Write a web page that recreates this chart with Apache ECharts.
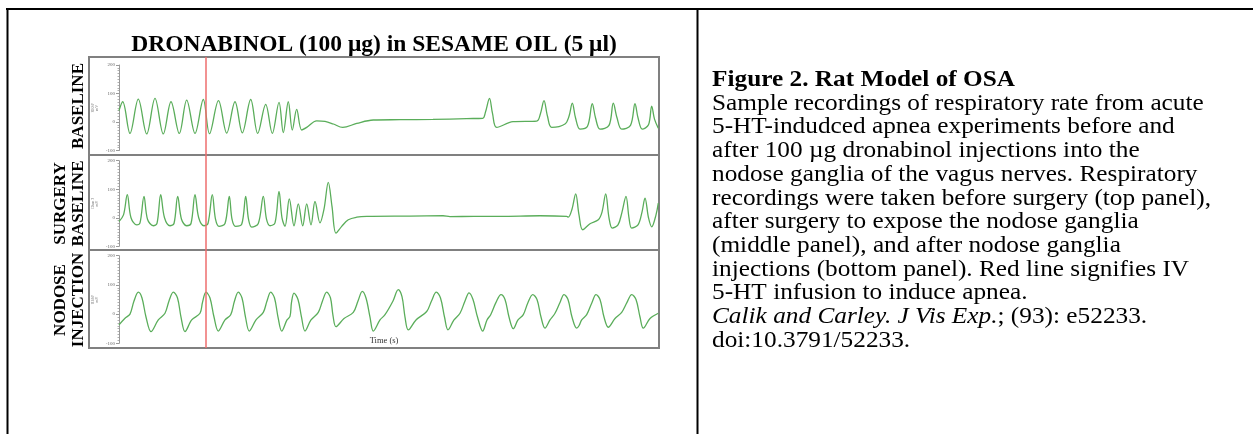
<!DOCTYPE html>
<html><head><meta charset="utf-8">
<script src="https://cdn.jsdelivr.net/npm/echarts@6/dist/echarts.min.js"></script>
<style>html,body{margin:0;padding:0;background:#fff}#c{width:1253px;height:434px}</style>
</head><body><div id="c"></div><script>
// ---- data (time in s, signal in mV) ----
const baselineTrace = [[0,40],[0.37,71],[1.10,-40],[1.93,80],[2.77,-42],[3.60,83],[4.43,-42],[5.20,71],[6.03,-40],[6.77,77],[7.60,-40],[8.43,79],[9.05,-41],[9.95,75],[10.77,-39],[11.60,71],[12.33,-38],[13.17,79],[13.87,-40],[14.67,62],[15.33,-40],[16.00,69],[16.43,-37],[16.93,71],[17.33,-28],[17.77,44],[18.27,-28],[18.77,-19],[19.77,4],[20.60,2],[21.43,-7],[22.37,-19],[23.77,-5],[25.43,7],[28.10,8],[31.40,9],[34.77,12],[36.37,13],[36.65,35],[37.05,83],[37.35,30],[37.77,-19],[39.40,1],[41.77,3],[42.15,30],[42.50,75],[42.85,20],[43.27,-19],[44.60,-7],[45.00,20],[45.33,66],[45.65,15],[46.10,-25],[46.85,-15],[47.33,64],[47.65,15],[48.10,-25],[49.00,-12],[49.43,66],[49.80,15],[50.27,-25],[51.15,-12],[51.60,64],[51.90,15],[52.33,-25],[52.95,-10],[53.27,56],[53.55,10],[53.93,-22]];
const surgeryTrace = [[0,-13],[0.45,10],[0.83,81],[1.20,0],[1.77,-25],[2.10,-18],[2.50,75],[2.85,-5],[3.43,-28],[3.80,-20],[4.17,81],[4.55,0],[5.10,-28],[5.50,-20],[5.87,75],[6.25,-5],[6.77,-28],[7.20,-20],[7.60,81],[7.97,0],[8.50,-28],[8.90,-20],[9.33,81],[9.65,-5],[10.00,-30],[10.60,-20],[11.03,75],[11.30,-5],[11.65,-30],[12.27,-23],[12.67,75],[12.95,-5],[13.27,-33],[13.93,-20],[14.43,75],[14.75,-5],[15.10,-28],[15.60,-18],[16.00,92],[16.30,0],[16.60,-30],[17.03,66],[17.50,-28],[17.93,49],[18.37,-28],[18.77,49],[19.20,-25],[19.60,57],[20.10,-18],[20.50,30],[20.93,124],[21.30,40],[21.70,-54],[22.27,-30],[22.93,-7],[23.77,2],[24.77,5],[29.10,6],[32.40,7],[33.10,4],[35.50,5],[38.10,5],[42.10,7],[44.77,5],[44.93,2],[45.30,30],[45.67,84],[46.00,10],[46.37,-42],[47.10,-21],[47.93,-7],[48.30,20],[48.67,84],[49.00,0],[49.33,-36],[49.90,-25],[50.30,20],[50.70,75],[51.00,0],[51.27,-36],[51.90,-25],[52.30,20],[52.60,69],[52.95,0],[53.27,-32],[53.70,10],[53.93,51]];
const nodoseTrace = [[0,-37],[0.60,-14],[1.10,0],[1.50,45],[1.93,75],[2.30,55],[2.70,-10],[3.20,-60],[3.93,-20],[4.60,3],[5.00,45],[5.43,75],[5.85,55],[6.20,-10],[6.60,-60],[7.27,-20],[8.10,3],[8.35,40],[8.70,75],[9.10,55],[9.50,-10],[9.93,-58],[10.60,-20],[11.17,-2],[11.55,45],[11.93,75],[12.30,55],[12.65,-10],[13.03,-58],[13.70,-20],[14.43,6],[14.80,45],[15.17,75],[15.55,55],[15.90,-10],[16.27,-58],[16.80,-20],[17.10,-8],[17.25,40],[17.50,72],[17.90,50],[18.25,-10],[18.60,-58],[19.20,-20],[19.93,6],[20.35,45],[20.77,75],[21.15,55],[21.40,-5],[21.70,-43],[22.50,-15],[23.43,6],[23.90,45],[24.33,78],[24.70,55],[25.10,-10],[25.43,-58],[26.10,-20],[26.60,-2],[27.40,45],[27.93,84],[28.30,60],[28.60,-10],[28.93,-54],[29.70,-20],[30.77,9],[31.25,45],[31.73,75],[32.15,55],[32.55,-10],[32.90,-54],[33.50,-20],[34.10,3],[34.60,45],[35.00,73],[35.40,50],[35.85,-10],[36.37,-58],[36.80,-20],[37.17,-2],[37.70,40],[38.20,67],[38.60,50],[39.00,-10],[39.43,-50],[39.90,-20],[40.43,-2],[40.90,40],[41.37,67],[41.80,50],[42.20,-10],[42.60,-48],[43.10,-20],[43.60,3],[44.10,40],[44.50,67],[44.90,50],[45.30,-10],[45.77,-48],[46.00,-40],[46.27,-20],[46.77,-2],[47.30,40],[47.70,67],[48.10,50],[48.50,-10],[48.93,-45],[49.60,-15],[50.27,6],[50.80,40],[51.27,67],[51.70,50],[52.10,-10],[52.43,-48],[53.10,-15],[53.93,3]];
const yMin = -100, yMax = 200, yStep = 100;
const timeRange = [0, 54];
const infusionTime = 8.7;
const panelLabels = [['BASELINE'], ['SURGERY', 'BASELINE'], ['NODOSE', 'INJECTION']];
const unitNames = ['RESP\nmV', 'Chan 3\nmV', 'RESP\nmV'];
const chartTitle = 'DRONABINOL (100 μg) in SESAME OIL (5 μl)';
const xAxisName = 'Time (s)';
const captionLines = [
  '{b|Figure 2. Rat Model of OSA}',
  'Sample recordings of respiratory rate from acute',
  '5-HT-indudced apnea experiments before and',
  'after 100 µg dronabinol injections into the',
  'nodose ganglia of the vagus nerves. Respiratory',
  'recordings were taken before surgery (top panel),',
  'after surgery to expose the nodose ganglia',
  '(middle panel), and after nodose ganglia',
  'injections (bottom panel). Red line signifies IV',
  '5-HT infusion to induce apnea.',
  '{i|Calik and Carley. J Vis Exp.}; (93): e52233.',
  'doi:10.3791/52233.'
];
const traces = [baselineTrace, surgeryTrace, nodoseTrace];

// ---- layout ----
const SERIF = '"Liberation Serif", "Times New Roman", serif';
const plotLeft = 119, plotRight = 659;
const grids = [
  { top: 65, height: 85.5 },
  { top: 160.7, height: 85.6 },
  { top: 255.7, height: 87.6 }
];
const boxTop = 57, boxBottom = 348, boxLeft = 89;
const dividers = [155, 250];
const labelCenters = [106, 203.5, 300];
const capFont = 23, capScaleX = 1.1, capTop = 80, capStep = 23.7;

const chart = echarts.init(document.getElementById('c'), null, { renderer: 'canvas' });

const option = {
  backgroundColor: '#ffffff',
  animation: false,
  grid: grids.map(g => ({ left: plotLeft, width: plotRight - plotLeft, top: g.top, height: g.height, containLabel: false })),
  xAxis: grids.map((g, i) => ({ type: 'value', gridIndex: i, min: timeRange[0], max: timeRange[1], show: false })),
  yAxis: grids.map((g, i) => ({
    type: 'value', gridIndex: i, min: yMin, max: yMax, interval: yStep,
    name: unitNames[i], nameLocation: 'middle', nameGap: 20, nameRotate: 90,
    nameTextStyle: { fontSize: 4, color: '#777', fontFamily: SERIF, lineHeight: 4 },
    axisLine: { show: true, lineStyle: { color: '#9a9a9a', width: 1 } },
    axisTick: { show: true, length: 3, lineStyle: { color: '#9a9a9a' } },
    minorTick: { show: true, splitNumber: 10, length: 1.5, lineStyle: { color: '#b0b0b0' } },
    axisLabel: { fontSize: 5, color: '#666', margin: 4, fontFamily: SERIF },
    splitLine: { show: false }
  })),
  series: traces.map((d, i) => ({
    type: 'line', xAxisIndex: i, yAxisIndex: i, data: d,
    showSymbol: false, smooth: 0.35,
    lineStyle: { color: '#5aad5a', width: 1.3 }
  })),
  graphic: []
};
chart.setOption(option);

function buildGraphic() {
  const g = [];
  // outer frame (document table lines)
  g.push({ type: 'line', shape: { x1: 6, y1: 9, x2: 1253, y2: 9 }, style: { stroke: '#000', lineWidth: 2 } });
  g.push({ type: 'line', shape: { x1: 7.5, y1: 8, x2: 7.5, y2: 434 }, style: { stroke: '#000', lineWidth: 2 } });
  g.push({ type: 'line', shape: { x1: 697.5, y1: 8, x2: 697.5, y2: 434 }, style: { stroke: '#000', lineWidth: 2 } });
  // panel box
  g.push({ type: 'rect', shape: { x: boxLeft, y: boxTop, width: plotRight - boxLeft, height: boxBottom - boxTop }, style: { fill: null, stroke: '#808080', lineWidth: 2 } });
  dividers.forEach(y => g.push({ type: 'line', shape: { x1: boxLeft, y1: y, x2: plotRight, y2: y }, style: { stroke: '#808080', lineWidth: 2 } }));
  // title
  g.push({ type: 'text', x: (boxLeft + plotRight) / 2, y: 44.5, style: { text: chartTitle, font: 'bold 23.5px ' + SERIF, fill: '#000', textAlign: 'center', textVerticalAlign: 'middle' } });
  // panel labels (rotated)
  panelLabels.forEach((labs, i) => {
    const cols = labs.length === 1 ? [79] : [60.7, 79];
    labs.forEach((t, j) => {
      g.push({ type: 'text', x: cols[j], y: labelCenters[i], rotation: Math.PI / 2,
        style: { text: t, font: 'bold 17px ' + SERIF, fill: '#000', textAlign: 'center', textVerticalAlign: 'middle' } });
    });
  });
  // red infusion line from the time scale
  const rx = chart.convertToPixel({ xAxisIndex: 0 }, infusionTime);
  g.push({ type: 'line', z: 100, shape: { x1: rx, y1: boxTop, x2: rx, y2: boxBottom }, style: { stroke: '#ee6e6e', lineWidth: 1.5 } });
  // x axis name
  g.push({ type: 'text', x: 384, y: 340.5, style: { text: xAxisName, font: '8.5px ' + SERIF, fill: '#333', textAlign: 'center', textVerticalAlign: 'middle' } });
  // caption
  captionLines.forEach((t, i) => {
    g.push({ type: 'text', x: 712, y: capTop + capStep * i, scaleX: capScaleX, style: {
      text: t, font: capFont + 'px ' + SERIF, fill: '#000', textAlign: 'left', textVerticalAlign: 'middle',
      rich: { b: { fontWeight: 'bold', fontSize: capFont, fontFamily: SERIF, fill: '#000' }, i: { fontStyle: 'italic', fontSize: capFont, fontFamily: SERIF, fill: '#000' } }
    } });
  });
  return g;
}
chart.setOption({ graphic: buildGraphic() });
</script></body></html>
